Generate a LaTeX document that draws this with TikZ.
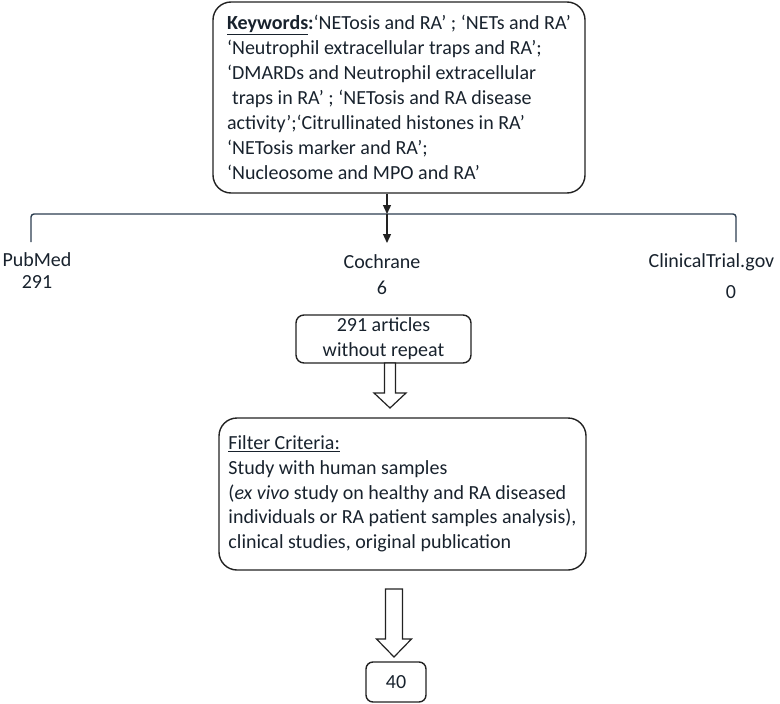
\documentclass[tikz,border=0pt]{standalone}
\usepackage{fontspec}
\setmainfont{Carlito}
\usetikzlibrary{arrows.meta,calc}
\definecolor{txt}{HTML}{18222D}
\definecolor{ln}{HTML}{222222}
\definecolor{brc}{HTML}{2C3E50}
\begin{document}
\begin{tikzpicture}[x=1pt,y=-1pt,
  every node/.style={text=txt, font=\fontsize{20}{25}\selectfont},
  box/.style={draw=ln, line width=1.4pt, rounded corners=#1},
  box/.default=16pt,
  thinarrow/.style={draw=ln, line width=1.3pt, -{Triangle[length=9pt,width=8pt]}},
  hollow/.style={draw=ln, line width=1.2pt, fill=white, line join=miter},
  bar/.style={draw=brc, line width=1.4pt, rounded corners=3pt}]
\useasboundingbox (0,0) rectangle (780,704);

% keywords box
\node[box=18pt, minimum width=372pt, minimum height=191pt, align=left, inner sep=0pt] (kw) at (399,97.5)
 {\textbf{\underline{Keywords}:}‘NETosis and RA’ ; ‘NETs and RA’\\
  ‘Neutrophil extracellular traps and RA’;\\
  ‘DMARDs and Neutrophil extracellular\\
  \hspace*{5pt}traps in RA’ ; ‘NETosis and RA disease\\
  activity’;‘Citrullinated histones in RA’\\
  ‘NETosis marker and RA’;\\
  ‘Nucleosome and MPO and RA’};

% distribution bar
\coordinate (barL) at (31,214);
\coordinate (barR) at (736,214);
\coordinate (barM) at (387,214);
\coordinate (barLe) at (31,242);
\coordinate (barRe) at (736,242);
\draw[bar] (barLe) -- (barL) -- (barR) -- (barRe);
\draw[thinarrow] ($(kw.south)+(-12,0)$) -- (barM);
\coordinate (coTop) at ($(barM)+(0,29)$);
\draw[thinarrow] (barM) -- (coTop);

% sources
\node[align=center, font=\fontsize{20}{22}\selectfont] (pm) at (37,271) {PubMed\\291};
\node[align=center, font=\fontsize{20}{26}\selectfont] (co) at (382,275) {Cochrane\\6};
\node (ct) at (711.5,262) {ClinicalTrial.gov};
\node (ct0) at (731,292) {0};

% 291 box
\node[box=8pt, minimum width=175pt, minimum height=48pt, inner sep=0pt] (b291) at (383.5,339)
 {\raisebox{-5pt}[22pt][22pt]{\parbox{170pt}{\centering 291 articles\\without repeat}}};

% hollow arrow 1
\draw[hollow] (384.5,363) -- (384.5,393) -- (374,393) -- (390,408) -- (406,393) -- (395.5,393) -- (395.5,363) -- cycle;

% filter box
\node[box=18pt, minimum width=367pt, minimum height=152pt, align=left, inner sep=0pt,
      font=\fontsize{20}{24.75}\selectfont] (flt) at (402.5,494)
 {\underline{Filter Criteria:}\\
  Study with human samples\\
  (\textit{ex vivo} study on healthy and RA diseased\\
  individuals or RA patient samples analysis),\\
  clinical studies, original publication};

% hollow arrow 2
\draw[hollow] (385.5,589) -- (385.5,639) -- (376.5,639) -- (394,657) -- (411.5,639) -- (402.5,639) -- (402.5,589) -- cycle;

% final box
\node[box=7pt, minimum width=60pt, minimum height=40pt, inner sep=0pt] (b40) at (396,682) {40};
\end{tikzpicture}
\end{document}
